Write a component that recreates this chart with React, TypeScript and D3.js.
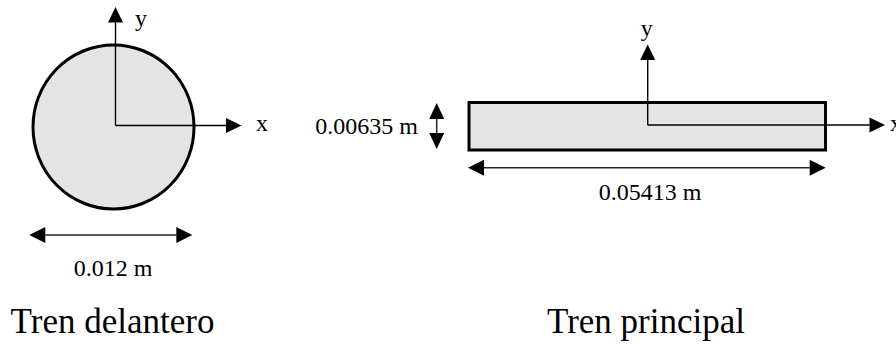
import React from "react";
import * as d3 from "d3";

// ---- data ----
const sectionTitles = ["Tren delantero", "Tren principal"];
const dimensionLabels = ["0.012 m", "0.00635 m", "0.05413 m"];
const dimensionValues = [0.012, 0.00635, 0.05413];
const axisNames = ["x", "y"];

// ---- layout ----
const W = 896;
const H = 344;
const FONT = "'Liberation Serif', 'Times New Roman', serif";
const FILL = "#e4e4e4";
const INK = "#000";

type Pt = [number, number];

function head(tip: Pt, dir: "up" | "down" | "left" | "right", len: number, half: number) {
  const [x, y] = tip;
  const p = d3.path();
  if (dir === "up") { p.moveTo(x, y); p.lineTo(x - half, y + len); p.lineTo(x + half, y + len); }
  if (dir === "down") { p.moveTo(x, y); p.lineTo(x - half, y - len); p.lineTo(x + half, y - len); }
  if (dir === "left") { p.moveTo(x, y); p.lineTo(x + len, y - half); p.lineTo(x + len, y + half); }
  if (dir === "right") { p.moveTo(x, y); p.lineTo(x - len, y - half); p.lineTo(x - len, y + half); }
  p.closePath();
  return p.toString();
}

function Axes({ o, yTip, xTip }: { o: Pt; yTip: number; xTip: number }) {
  const len = 15.5, half = 7.5;
  return (
    <g>
      <line x1={o[0]} y1={o[1]} x2={o[0]} y2={yTip + len} stroke={INK} strokeWidth={1.4} />
      <path d={head([o[0], yTip], "up", len, half)} fill={INK} />
      <line x1={o[0]} y1={o[1]} x2={xTip - len} y2={o[1]} stroke={INK} strokeWidth={1.4} />
      <path d={head([xTip, o[1]], "right", len, half)} fill={INK} />
    </g>
  );
}

function HDim({ y, x0, x1 }: { y: number; x0: number; x1: number }) {
  const len = 16, half = 8;
  return (
    <g>
      <line x1={x0 + len} y1={y} x2={x1 - len} y2={y} stroke="#222" strokeWidth={1.5} />
      <path d={head([x0, y], "left", len, half)} fill={INK} />
      <path d={head([x1, y], "right", len, half)} fill={INK} />
    </g>
  );
}

function VDim({ x, y0, y1 }: { x: number; y0: number; y1: number }) {
  const len = 16, half = 7.5;
  return (
    <g>
      <line x1={x} y1={y0 + len} x2={x} y2={y1 - len} stroke="#222" strokeWidth={1.5} />
      <path d={head([x, y0], "up", len, half)} fill={INK} />
      <path d={head([x, y1], "down", len, half)} fill={INK} />
    </g>
  );
}

export default function App() {
  // pixel scales for the drawn (not-to-scale) sections
  const circleScale = d3.scaleLinear().domain([0, dimensionValues[0]]).range([0, 161]);
  const rectW = d3.scaleLinear().domain([0, dimensionValues[2]]).range([0, 356.5]);
  const rectH = d3.scaleLinear().domain([0, dimensionValues[1]]).range([0, 47.5]);

  const cC: Pt = [113.5, 127];
  const r = circleScale(dimensionValues[0]) / 2;
  const rx0 = 469, ry0 = 102.5;
  const rw = rectW(dimensionValues[2]);
  const rh = rectH(dimensionValues[1]);

  return (
    <svg width={W} height={H} style={{ position: "absolute", left: 0, top: 0, background: "#fff" }}
      fontFamily={FONT}>
      {/* Tren delantero */}
      <ellipse cx={cC[0]} cy={cC[1]} rx={r} ry={r + 1.5} fill={FILL} stroke={INK} strokeWidth={3} />
      <Axes o={[115.5, 125.5]} yTip={7} xTip={241.5} />
      <text x={135} y={26} fontSize={24}>{axisNames[1]}</text>
      <text x={256} y={131} fontSize={24}>{axisNames[0]}</text>
      <HDim y={235} x0={29.3} x1={192.3} />
      <text x={113} y={276} fontSize={24} textAnchor="middle">{dimensionLabels[0]}</text>
      <text x={112.5} y={333} fontSize={35} textAnchor="middle">{sectionTitles[0]}</text>

      {/* Tren principal */}
      <rect x={rx0} y={ry0} width={rw} height={rh} fill={FILL} stroke={INK} strokeWidth={3} />
      <Axes o={[647.7, 125]} yTip={44.5} xTip={885} />
      <text x={646.7} y={36} fontSize={24} textAnchor="middle">{axisNames[1]}</text>
      <text x={890} y={131} fontSize={24}>{axisNames[0]}</text>
      <VDim x={436.7} y0={103} y1={149} />
      <text x={418} y={134} fontSize={24} textAnchor="end">{dimensionLabels[1]}</text>
      <HDim y={167.7} x0={468} x1={825.7} />
      <text x={650} y={200} fontSize={24} textAnchor="middle">{dimensionLabels[2]}</text>
      <text x={646} y={333} fontSize={35} textAnchor="middle">{sectionTitles[1]}</text>
    </svg>
  );
}
